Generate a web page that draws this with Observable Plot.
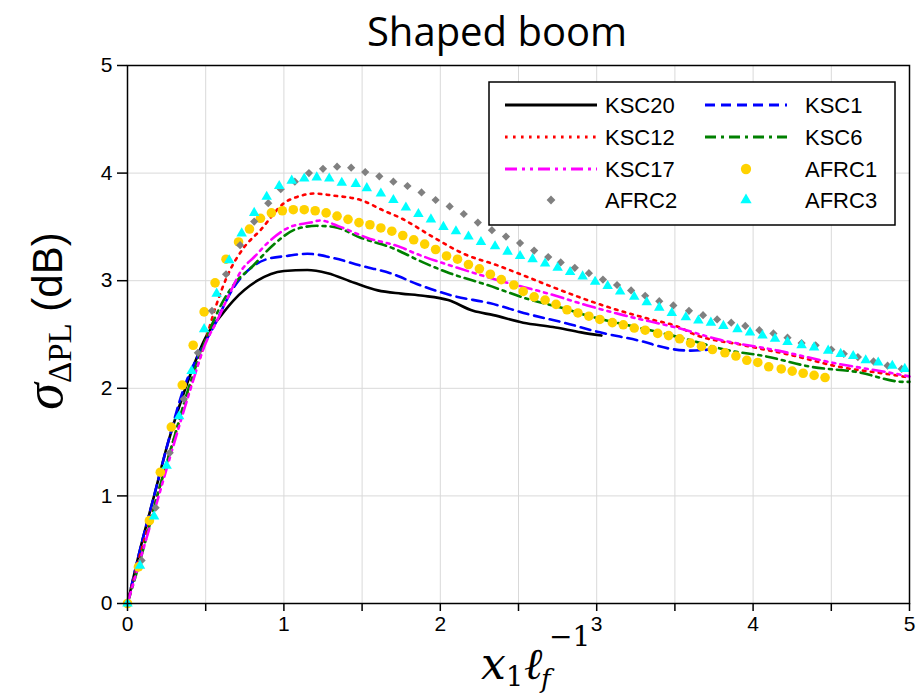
<!DOCTYPE html>
<html>
<head>
<meta charset="utf-8">
<script src="https://cdn.jsdelivr.net/npm/d3@7"></script>
<script src="https://cdn.jsdelivr.net/npm/@observablehq/plot@0.6"></script>
<style>
  html, body { margin: 0; padding: 0; background: white; }
  svg { display: block; }
</style>
</head>
<body>
<div id="chart"></div>
<script>
// ---------- data ----------
const titleText = "Shaped boom";
const xTickValues = [0, 0.5, 1, 1.5, 2, 2.5, 3, 3.5, 4, 4.5, 5];
const xGridValues = [0.5, 1, 1.5, 2, 2.5, 3, 3.5, 4, 4.5];
const yTickValues = [0, 1, 2, 3, 4, 5];
const yGridValues = [1, 2, 3, 4];

const ksc20X = [0, 0.08, 0.17, 0.26, 0.37, 0.51, 0.6, 0.68, 0.83, 1.0, 1.15, 1.28, 1.45, 1.6, 1.75, 1.89, 2.05, 2.21, 2.34, 2.53, 2.72, 2.9, 3.03];
const ksc20Y = [0, 0.5, 1.0, 1.5, 2.0, 2.5, 2.68, 2.82, 3.0, 3.09, 3.1, 3.07, 2.98, 2.91, 2.88, 2.86, 2.82, 2.72, 2.68, 2.61, 2.57, 2.52, 2.49];

const ksc1X = [0, 0.08, 0.17, 0.26, 0.36, 0.45, 0.55, 0.68, 0.79, 0.89, 1.02, 1.15, 1.32, 1.49, 1.68, 1.85, 2.08, 2.32, 2.56, 2.79, 3.02, 3.28, 3.46, 3.6, 3.72];
const ksc1Y = [0, 0.5, 1.0, 1.5, 2.0, 2.3, 2.57, 2.94, 3.12, 3.2, 3.23, 3.25, 3.21, 3.14, 3.07, 2.97, 2.86, 2.79, 2.69, 2.61, 2.52, 2.44, 2.37, 2.35, 2.36];

const ksc12X = [0, 0.09, 0.19, 0.29, 0.40, 0.5, 0.56, 0.64, 0.74, 0.85, 1.0, 1.11, 1.19, 1.32, 1.49, 1.64, 1.75, 1.96, 2.15, 2.37, 2.53, 2.72, 2.94, 3.15, 3.32, 3.54, 3.61, 3.94, 4.24, 4.55, 4.87, 5.0];
const ksc12Y = [0, 0.5, 1.0, 1.5, 2.0, 2.45, 2.74, 3.05, 3.3, 3.47, 3.72, 3.79, 3.81, 3.79, 3.75, 3.65, 3.58, 3.40, 3.25, 3.14, 3.05, 2.94, 2.82, 2.72, 2.65, 2.56, 2.51, 2.40, 2.31, 2.20, 2.13, 2.10];

const ksc6X = [0, 0.1, 0.19, 0.29, 0.39, 0.5, 0.6, 0.7, 0.79, 0.93, 1.08, 1.21, 1.32, 1.49, 1.7, 1.89, 2.06, 2.30, 2.56, 2.77, 2.98, 3.28, 3.54, 3.85, 4.07, 4.37, 4.67, 4.96, 5.0];
const ksc6Y = [0, 0.5, 1.0, 1.5, 2.0, 2.45, 2.78, 3.0, 3.12, 3.33, 3.48, 3.51, 3.5, 3.40, 3.3, 3.17, 3.07, 2.96, 2.83, 2.75, 2.66, 2.56, 2.47, 2.35, 2.30, 2.20, 2.15, 2.06, 2.06];

const ksc17X = [0, 0.1, 0.2, 0.3, 0.4, 0.5, 0.57, 0.65, 0.73, 0.81, 0.91, 1.04, 1.17, 1.23, 1.36, 1.53, 1.75, 1.83, 2.11, 2.38, 2.69, 2.94, 3.17, 3.52, 3.79, 4.16, 4.5, 4.93, 5.0];
const ksc17Y = [0, 0.5, 1.0, 1.5, 1.98, 2.42, 2.62, 2.87, 3.1, 3.22, 3.37, 3.5, 3.54, 3.56, 3.5, 3.40, 3.31, 3.26, 3.12, 3.0, 2.88, 2.77, 2.68, 2.56, 2.45, 2.35, 2.24, 2.13, 2.11];

const afrc1X = [0.0, 0.07, 0.14, 0.21, 0.28, 0.35, 0.42, 0.49, 0.56, 0.63, 0.71, 0.78, 0.85, 0.92, 0.99, 1.06, 1.13, 1.20, 1.27, 1.34, 1.41, 1.48, 1.55, 1.62, 1.69, 1.76, 1.83, 1.90, 1.97, 2.04, 2.11, 2.18, 2.25, 2.32, 2.39, 2.47, 2.53, 2.60, 2.67, 2.74, 2.81, 2.88, 2.95, 3.02, 3.10, 3.17, 3.24, 3.31, 3.39, 3.46, 3.53, 3.60, 3.67, 3.74, 3.82, 3.89, 3.96, 4.03, 4.10, 4.18, 4.25, 4.32, 4.39, 4.46];
const afrc1Y = [0, 0.34, 0.77, 1.22, 1.64, 2.03, 2.40, 2.71, 2.98, 3.20, 3.36, 3.48, 3.58, 3.63, 3.65, 3.66, 3.66, 3.65, 3.63, 3.60, 3.57, 3.54, 3.52, 3.49, 3.46, 3.42, 3.38, 3.34, 3.29, 3.23, 3.20, 3.15, 3.11, 3.06, 3.01, 2.96, 2.90, 2.85, 2.82, 2.78, 2.73, 2.70, 2.67, 2.64, 2.61, 2.59, 2.56, 2.54, 2.51, 2.49, 2.46, 2.42, 2.39, 2.36, 2.33, 2.30, 2.26, 2.24, 2.20, 2.18, 2.16, 2.14, 2.12, 2.10];

const afrc2X = [0, 0.09, 0.18, 0.27, 0.36, 0.45, 0.54, 0.63, 0.72, 0.81, 0.90, 0.98, 1.07, 1.16, 1.25, 1.34, 1.43, 1.52, 1.61, 1.70, 1.79, 1.88, 1.97, 2.06, 2.15, 2.24, 2.33, 2.42, 2.51, 2.60, 2.69, 2.77, 2.86, 2.95, 3.04, 3.13, 3.22, 3.31, 3.40, 3.49, 3.59, 3.68, 3.77, 3.86, 3.95, 4.04, 4.13, 4.22, 4.31, 4.40, 4.50, 4.58, 4.67, 4.77, 4.86, 4.95];
const afrc2Y = [0, 0.4, 0.89, 1.4, 1.9, 2.33, 2.72, 3.06, 3.33, 3.55, 3.72, 3.85, 3.92, 4.0, 4.04, 4.06, 4.05, 4.01, 3.97, 3.92, 3.88, 3.82, 3.75, 3.69, 3.62, 3.54, 3.47, 3.41, 3.35, 3.28, 3.22, 3.17, 3.12, 3.07, 3.01, 2.96, 2.91, 2.86, 2.81, 2.77, 2.72, 2.68, 2.64, 2.61, 2.58, 2.54, 2.51, 2.47, 2.42, 2.40, 2.36, 2.32, 2.29, 2.25, 2.21, 2.18];

const afrc3X = [0, 0.08, 0.17, 0.25, 0.33, 0.41, 0.49, 0.57, 0.65, 0.73, 0.81, 0.89, 0.97, 1.05, 1.13, 1.21, 1.29, 1.37, 1.46, 1.53, 1.62, 1.70, 1.78, 1.86, 1.94, 2.02, 2.10, 2.18, 2.26, 2.35, 2.43, 2.51, 2.59, 2.67, 2.75, 2.83, 2.91, 2.99, 3.07, 3.15, 3.24, 3.32, 3.40, 3.48, 3.57, 3.65, 3.73, 3.81, 3.90, 3.98, 4.06, 4.14, 4.22, 4.31, 4.39, 4.48, 4.56, 4.64, 4.72, 4.80, 4.89, 4.97];
const afrc3Y = [0, 0.35, 0.81, 1.28, 1.74, 2.16, 2.55, 2.88, 3.19, 3.44, 3.63, 3.78, 3.88, 3.93, 3.95, 3.96, 3.95, 3.91, 3.90, 3.86, 3.81, 3.75, 3.68, 3.62, 3.57, 3.50, 3.46, 3.41, 3.36, 3.32, 3.27, 3.23, 3.20, 3.16, 3.12, 3.08, 3.04, 2.99, 2.95, 2.90, 2.85, 2.80, 2.75, 2.70, 2.66, 2.63, 2.61, 2.58, 2.55, 2.52, 2.49, 2.46, 2.43, 2.40, 2.38, 2.35, 2.32, 2.30, 2.26, 2.24, 2.21, 2.18];

// ---------- build tables ----------
const zip = (xs, ys) => xs.map((x, i) => ({x, y: ys[i]}));
const ksc20 = zip(ksc20X, ksc20Y);
const ksc1 = zip(ksc1X, ksc1Y);
const ksc12 = zip(ksc12X, ksc12Y);
const ksc6 = zip(ksc6X, ksc6Y);
const ksc17 = zip(ksc17X, ksc17Y);
const afrc1 = zip(afrc1X, afrc1Y);
const afrc2 = zip(afrc2X, afrc2Y);
const afrc3 = zip(afrc3X, afrc3Y);

const LW = 2.6;
const styles = {
  KSC20: {stroke: "#000000", dash: null},
  KSC1: {stroke: "#0000ff", dash: "10,6"},
  KSC12: {stroke: "#ff0000", dash: "2.6,5.4"},
  KSC6: {stroke: "#008000", dash: "11,5,3,5"},
  KSC17: {stroke: "#ff00ff", dash: "12,5,3,5,3,5"},
  AFRC1: {fill: "#ffd200", symbol: "circle", r: 4.8},
  AFRC2: {fill: "#808080", symbol: "diamond2", r: 3.7},
  AFRC3: {fill: "#00ffff", symbol: "triangle", r: 3.9}
};
const lineMark = (data, key) => Plot.line(data, {
  x: "x", y: "y", stroke: styles[key].stroke, strokeWidth: LW,
  strokeDasharray: styles[key].dash ?? undefined, curve: "monotone-x"
});
const dotMark = (data, key) => Plot.dot(data, {
  x: "x", y: "y", fill: styles[key].fill, stroke: "none",
  symbol: styles[key].symbol, r: styles[key].r
});

const svg = Plot.plot({
  width: 917,
  height: 694,
  marginLeft: 127,
  marginRight: 8,
  marginTop: 65,
  marginBottom: 91,
  style: {fontFamily: "'Liberation Sans', Arial, sans-serif", fontSize: "21px", color: "black", background: "white", overflow: "hidden"},
  x: {domain: [0, 5]},
  y: {domain: [0, 5]},
  marks: [
    Plot.gridX(xGridValues, {stroke: "#d9d9d9", strokeOpacity: 1, strokeWidth: 1}),
    Plot.gridY(yGridValues, {stroke: "#d9d9d9", strokeOpacity: 1, strokeWidth: 1}),
    lineMark(ksc20, "KSC20"),
    lineMark(ksc1, "KSC1"),
    lineMark(ksc12, "KSC12"),
    lineMark(ksc6, "KSC6"),
    lineMark(ksc17, "KSC17"),
    dotMark(afrc1, "AFRC1"),
    dotMark(afrc2, "AFRC2"),
    dotMark(afrc3, "AFRC3"),
    Plot.frame({stroke: "black", strokeWidth: 1.5}),
    Plot.axisX({ticks: xTickValues, tickFormat: d => Number.isInteger(d) ? String(d) : "", tickSize: 8, tickPadding: 5, label: null, fontSize: 21, strokeWidth: 1.5}),
    Plot.axisY({ticks: yTickValues, tickFormat: d => String(d), tickSize: 10, tickPadding: 5, label: null, fontSize: 21, strokeWidth: 1.5})
  ]
});

document.getElementById("chart").appendChild(svg);

// ---------- annotations: title, axis labels, legend ----------
const s = d3.select(svg);
// all text present so far is axis tick labels: force their size
s.selectAll("text").style("font-size", "21px");

s.append("text")
  .attr("x", 497).attr("y", 46)
  .attr("text-anchor", "middle")
  .style("font-family", "'Open Sans', sans-serif")
  .style("font-size", "40px")
  .attr("fill", "black")
  .text(titleText);

// x-axis label: x_1 ℓ_f^{-1}
const serif = "'DejaVu Serif', 'Liberation Serif', serif";
const xl = s.append("g").attr("fill", "black").attr("text-anchor", "start").style("font-family", serif);
xl.append("text").attr("x", 481).attr("y", 679).style("font-size", "44px").style("font-style", "italic").text("x");
xl.append("text").attr("x", 506).attr("y", 686).style("font-size", "27px").text("1");
xl.append("text").attr("x", 524).attr("y", 679).style("font-size", "44px").style("font-style", "italic").text("ℓ");
xl.append("text").attr("x", 541).attr("y", 688).style("font-size", "26px").style("font-style", "italic").text("f");
xl.append("text").attr("x", 549).attr("y", 646).style("font-size", "28px").text("−1");

// y-axis label: σ_ΔPL (dB)
const yl = s.append("text")
  .attr("transform", "translate(62,321) rotate(-90)")
  .attr("text-anchor", "middle")
  .attr("fill", "black");
yl.append("tspan").style("font-family", "'Liberation Serif', serif").style("font-style", "italic").style("font-size", "54px").text("σ");
yl.append("tspan").style("font-family", "'Liberation Serif', serif").style("font-size", "33px").attr("dy", 9).text("ΔPL");
yl.append("tspan").style("font-family", "'Liberation Sans', Arial, sans-serif").style("font-size", "42px").attr("dy", -9).text(" (dB)");

// legend
const lg = s.append("g").attr("text-anchor", "start");
lg.append("rect").attr("x", 489).attr("y", 82).attr("width", 406).attr("height", 143)
  .attr("fill", "white").attr("stroke", "black").attr("stroke-width", 1.5);
const legendItems = [
  {key: "KSC20", col: 0, row: 0}, {key: "KSC1", col: 1, row: 0},
  {key: "KSC12", col: 0, row: 1}, {key: "KSC6", col: 1, row: 1},
  {key: "KSC17", col: 0, row: 2}, {key: "AFRC1", col: 1, row: 2},
  {key: "AFRC2", col: 0, row: 3}, {key: "AFRC3", col: 1, row: 3}
];
const rowY = [105, 137, 169, 200];
const colLine = [[505, 597], [705, 787]];
const colText = [605, 805];
for (const it of legendItems) {
  const st = styles[it.key];
  const cy = rowY[it.row];
  const [x0, x1] = colLine[it.col];
  if (st.stroke) {
    const l = lg.append("line").attr("x1", x0).attr("x2", x1).attr("y1", cy).attr("y2", cy)
      .attr("stroke", st.stroke).attr("stroke-width", LW + 0.4);
    if (st.dash) l.attr("stroke-dasharray", st.dash);
  } else {
    const sym = {circle: d3.symbolCircle, diamond2: d3.symbolDiamond2, triangle: d3.symbolTriangle}[st.symbol];
    lg.append("path")
      .attr("d", d3.symbol(sym, Math.PI * st.r * st.r * 1.15)())
      .attr("transform", `translate(${(x0 + x1) / 2},${cy})`)
      .attr("fill", st.fill);
  }
  lg.append("text").attr("x", colText[it.col]).attr("y", cy + 8)
    .attr("text-anchor", "start")
    .style("font-family", "'Liberation Sans', Arial, sans-serif").style("font-size", "22px")
    .attr("fill", "black").text(it.key);
}
</script>
</body>
</html>
